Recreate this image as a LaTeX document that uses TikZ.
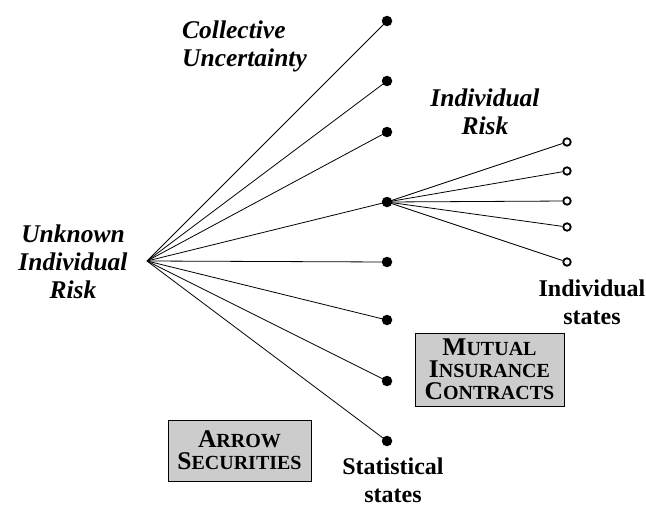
\documentclass[tikz,border=0pt]{standalone}
\usepackage{fontspec}
\setmainfont{Liberation Serif}
\newcommand{\smk}[1]{{\fontsize{20}{20}\selectfont #1}}
\begin{document}
\begin{tikzpicture}[x=1pt,y=-1pt,
  fdot/.style={circle,fill=black,inner sep=0pt,minimum size=10.5pt},
  odot/.style={circle,draw=black,line width=1.8pt,fill=white,inner sep=0pt,minimum size=7.5pt},
  branch/.style={line width=0.8pt},
  itl/.style={font=\fontsize{25.5}{28}\selectfont\bfseries\itshape,inner sep=0pt},
  upl/.style={font=\fontsize{24}{28}\selectfont\bfseries,inner sep=0pt,align=center},
  boxl/.style={draw=black,line width=0.8pt,fill=gray!40,inner sep=0pt,align=center,font=\fontsize{25.5}{22}\selectfont\bfseries}
]
\useasboundingbox (0,0) rectangle (646,506);
\coordinate (r) at (147,261);
\node[fdot] (s1) at (387,21) {};
\node[fdot] (s2) at (387,81) {};
\node[fdot] (s3) at (387,132) {};
\node[fdot] (s4) at (387,202) {};
\node[fdot] (s5) at (387,262) {};
\node[fdot] (s6) at (387,320) {};
\node[fdot] (s7) at (387,381) {};
\node[fdot] (s8) at (387,441) {};
\foreach \i in {1,...,8} \draw[branch] (r) -- (s\i.center);
\node[odot] (i1) at (567,142) {};
\node[odot] (i2) at (567,171) {};
\node[odot] (i3) at (567,201) {};
\node[odot] (i4) at (567,227) {};
\node[odot] (i5) at (567,262) {};
\foreach \i in {1,...,5} \draw[branch] (s4.center) -- (i\i);
\node[itl,align=left,anchor=west] (cu) at (182,46) {Collective\\Uncertainty};
\node[itl,align=center] (ui) at (73,262) {Unknown\\Individual\\Risk};
\node[itl,align=center] (ir) at (485,112) {Individual\\Risk};
\node[upl] (is) at (592,302) {Individual\\states};
\node[upl] (ss) at (393,480) {Statistical\\states};
\node[boxl,minimum width=149pt,minimum height=73pt] (mi) at (489.5,369.5) {M\smk{UTUAL}\\I\smk{NSURANCE}\\C\smk{ONTRACTS}};
\node[boxl,minimum width=143pt,minimum height=61pt] (as) at (239.5,450.5) {A\smk{RROW}\\S\smk{ECURITIES}};
\end{tikzpicture}
\end{document}
